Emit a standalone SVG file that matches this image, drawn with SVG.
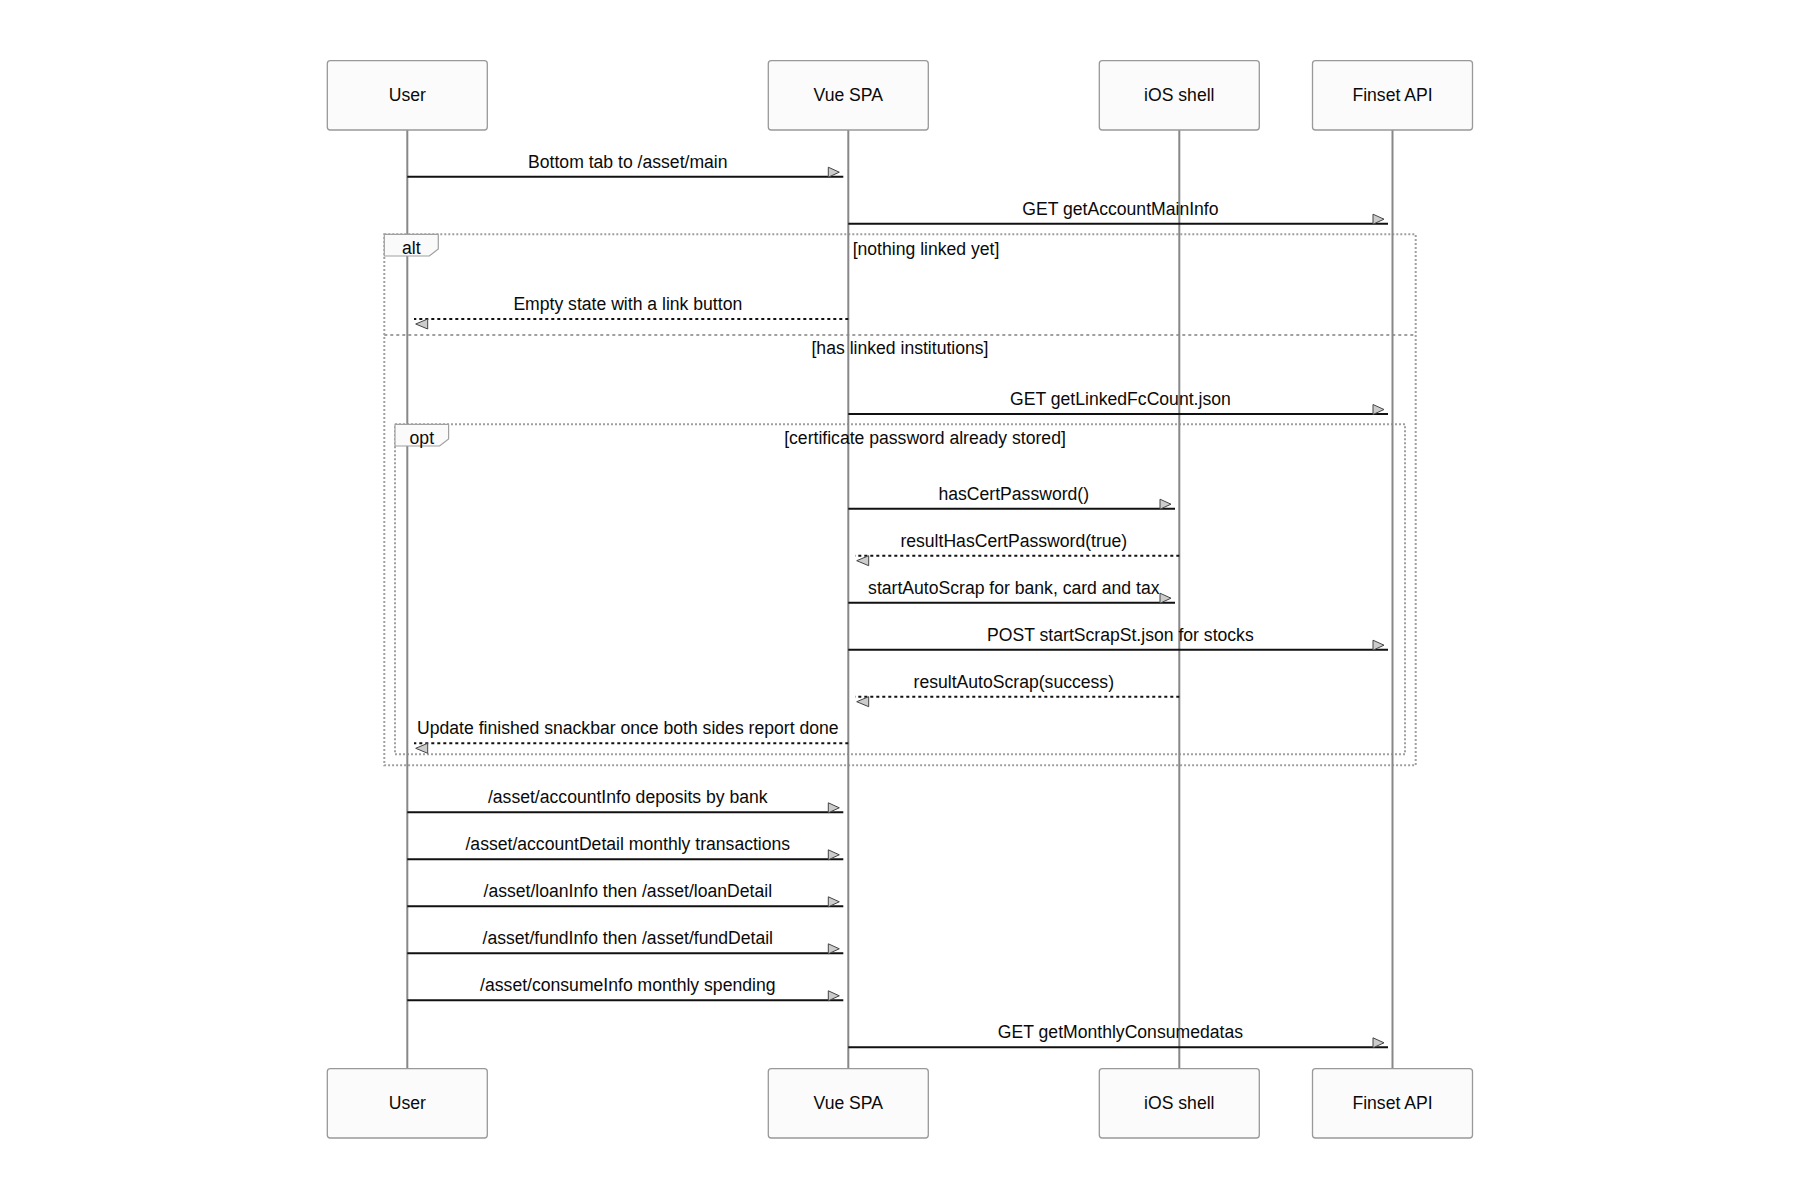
<svg xmlns="http://www.w3.org/2000/svg" width="1800" height="1200" viewBox="0 0 1800 1200">
<style>
text{font-family:"Liberation Sans",Arial,sans-serif;font-size:17.6px;fill:#0a0a0a}
.actor rect{fill:#fbfbfb;stroke:#999;stroke-width:1.3}
.actor text{text-anchor:middle}
.life{stroke:#888;stroke-width:2}
.loop{fill:none;stroke:#a0a0a0;stroke-width:2;stroke-dasharray:2,2}
.sep{stroke:#a0a0a0;stroke-width:2;stroke-dasharray:3,3}
.lbl{fill:#fafafa;stroke:#a0a0a0;stroke-width:1.2}
.msg{stroke:#111;stroke-width:2;fill:none}
.solid{marker-end:url(#arrR)}
.dash{stroke-dasharray:3,3;marker-end:url(#arrL)}
.mt{text-anchor:middle}
</style>
<defs>
<marker id="arrR" markerUnits="userSpaceOnUse" markerWidth="20" markerHeight="20" refX="15" refY="9.5" orient="0" overflow="visible">
<path d="M0,0 L11,5 L0,10 z" fill="#cccccc" stroke="#444" stroke-width="1"/>
</marker>
<marker id="arrL" markerUnits="userSpaceOnUse" markerWidth="20" markerHeight="20" refX="-1.7" refY="0" orient="0" overflow="visible">
<path d="M12,0 L0,5 L12,10 z" fill="#cccccc" stroke="#444" stroke-width="1"/>
</marker>
</defs>
<rect width="1800" height="1200" fill="#ffffff"/>

<g id="frames">
<rect class="loop" x="384.3" y="234.3" width="1031.4" height="531"/>
<line class="sep" x1="384.3" y1="335" x2="1415.7" y2="335"/>
<rect class="loop" x="395" y="424.3" width="1010" height="330"/>
</g>

<g id="lifelines">
<line class="life" x1="407.3" y1="130" x2="407.3" y2="1068.7"/>
<line class="life" x1="848.3" y1="130" x2="848.3" y2="1068.7"/>
<line class="life" x1="1179.3" y1="130" x2="1179.3" y2="1068.7"/>
<line class="life" x1="1392.5" y1="130" x2="1392.5" y2="1068.7"/>
</g>

<g id="frame-labels">
<polygon class="lbl" points="384.3,234.3 438.3,234.3 438.3,249 429.3,256 384.3,256"/>
<text x="411.3" y="254" text-anchor="middle">alt</text>
<text x="926" y="255" text-anchor="middle">[nothing linked yet]</text>
<text x="900" y="354" text-anchor="middle">[has linked institutions]</text>
<polygon class="lbl" points="395,424.3 448.6,424.3 448.6,439 439.6,446 395,446"/>
<text x="421.8" y="443.5" text-anchor="middle">opt</text>
<text x="925" y="444" text-anchor="middle">[certificate password already stored]</text>
</g>

<g id="actor-user-top" class="actor"><rect x="327.3" y="60.7" width="160" height="69.3" rx="3"/><text x="407.3" y="101">User</text></g>
<g id="actor-vue-top" class="actor"><rect x="768.3" y="60.7" width="160" height="69.3" rx="3"/><text x="848.3" y="101">Vue SPA</text></g>
<g id="actor-ios-top" class="actor"><rect x="1099.3" y="60.7" width="160" height="69.3" rx="3"/><text x="1179.3" y="101">iOS shell</text></g>
<g id="actor-finset-top" class="actor"><rect x="1312.5" y="60.7" width="160" height="69.3" rx="3"/><text x="1392.5" y="101">Finset API</text></g>

<g id="actor-user-bottom" class="actor"><rect x="327.3" y="1068.7" width="160" height="69.3" rx="3"/><text x="407.3" y="1109">User</text></g>
<g id="actor-vue-bottom" class="actor"><rect x="768.3" y="1068.7" width="160" height="69.3" rx="3"/><text x="848.3" y="1109">Vue SPA</text></g>
<g id="actor-ios-bottom" class="actor"><rect x="1099.3" y="1068.7" width="160" height="69.3" rx="3"/><text x="1179.3" y="1109">iOS shell</text></g>
<g id="actor-finset-bottom" class="actor"><rect x="1312.5" y="1068.7" width="160" height="69.3" rx="3"/><text x="1392.5" y="1109">Finset API</text></g>

<g id="connectors">
<line class="msg solid" x1="407.3" y1="176.7" x2="843.3" y2="176.7"/>
<line class="msg solid" x1="848.3" y1="223.7" x2="1388" y2="223.7"/>
<line class="msg dash" x1="848.3" y1="319" x2="414" y2="319"/>
<line class="msg solid" x1="848.3" y1="414" x2="1388" y2="414"/>
<line class="msg solid" x1="848.3" y1="508.7" x2="1175" y2="508.7"/>
<line class="msg dash" x1="1179.3" y1="555.7" x2="855" y2="555.7"/>
<line class="msg solid" x1="848.3" y1="602.7" x2="1175" y2="602.7"/>
<line class="msg solid" x1="848.3" y1="649.7" x2="1388" y2="649.7"/>
<line class="msg dash" x1="1179.3" y1="696.7" x2="855" y2="696.7"/>
<line class="msg dash" x1="848.3" y1="743.3" x2="414" y2="743.3"/>
<line class="msg solid" x1="407.3" y1="812.3" x2="843.3" y2="812.3"/>
<line class="msg solid" x1="407.3" y1="859.3" x2="843.3" y2="859.3"/>
<line class="msg solid" x1="407.3" y1="906.3" x2="843.3" y2="906.3"/>
<line class="msg solid" x1="407.3" y1="953.3" x2="843.3" y2="953.3"/>
<line class="msg solid" x1="407.3" y1="1000.3" x2="843.3" y2="1000.3"/>
<line class="msg solid" x1="848.3" y1="1047.3" x2="1388" y2="1047.3"/>
</g>

<g id="connector-labels">
<text class="mt" x="627.8" y="167.7">Bottom tab to /asset/main</text>
<text class="mt" x="1120.4" y="214.7">GET getAccountMainInfo</text>
<text class="mt" x="627.8" y="310">Empty state with a link button</text>
<text class="mt" x="1120.4" y="405">GET getLinkedFcCount.json</text>
<text class="mt" x="1013.8" y="499.7">hasCertPassword()</text>
<text class="mt" x="1013.8" y="546.7">resultHasCertPassword(true)</text>
<text class="mt" x="1013.8" y="593.7">startAutoScrap for bank, card and tax</text>
<text class="mt" x="1120.4" y="640.7">POST startScrapSt.json for stocks</text>
<text class="mt" x="1013.8" y="687.7">resultAutoScrap(success)</text>
<text class="mt" x="627.8" y="734.3">Update finished snackbar once both sides report done</text>
<text class="mt" x="627.8" y="803.3">/asset/accountInfo deposits by bank</text>
<text class="mt" x="627.8" y="850.3">/asset/accountDetail monthly transactions</text>
<text class="mt" x="627.8" y="897.3">/asset/loanInfo then /asset/loanDetail</text>
<text class="mt" x="627.8" y="944.3">/asset/fundInfo then /asset/fundDetail</text>
<text class="mt" x="627.8" y="991.3">/asset/consumeInfo monthly spending</text>
<text class="mt" x="1120.4" y="1038.3">GET getMonthlyConsumedatas</text>
</g>
</svg>
